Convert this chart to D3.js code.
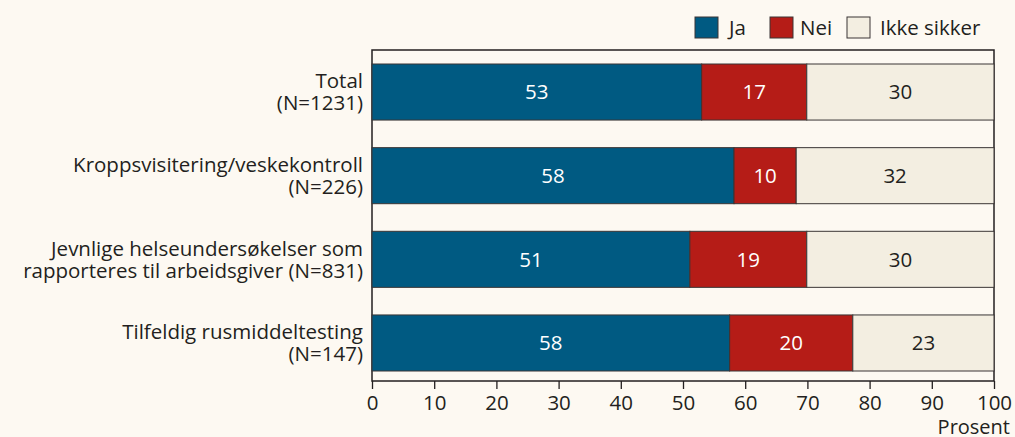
<!DOCTYPE html>
<html>
<head>
<meta charset="utf-8">
<script src="https://cdn.jsdelivr.net/npm/d3@7"></script>
<style>
  body { margin: 0; background: #fdf9f2; }
  svg { display: block; font-family: "Open Sans", "Noto Sans", sans-serif; }
</style>
</head>
<body>
<svg id="plot"></svg>
<script>
svgWidth = 1015;
svgHeight = 437;
margin = {top: 50, right: 21, bottom: 56, left: 372};
fontSize = 20.5;

categories = [
    ["Total", "(N=1231)"],
    ["Kroppsvisitering/veskekontroll", "(N=226)"],
    ["Jevnlige helseundersøkelser som", "rapporteres til arbeidsgiver (N=831)"],
    ["Tilfeldig rusmiddeltesting", "(N=147)"]
];
seriesNames = ["Ja", "Nei", "Ikke sikker"];
jaValues = [53, 58.2, 51.1, 57.5];
neiValues = [16.9, 10, 18.8, 19.8];
ikkeValues = [30.1, 31.8, 30.1, 22.7];
labelJa = [53, 58, 51, 58];
labelNei = [17, 10, 19, 20];
labelIkke = [30, 32, 30, 23];
ticks = [0, 10, 20, 30, 40, 50, 60, 70, 80, 90, 100];
colors = ["#005a82", "#b51c17", "#f3eee1"];
textColors = ["#ffffff", "#ffffff", "#231f20"];

function chartMain() {
    const svg = d3.select("#plot")
        .attr("width", svgWidth)
        .attr("height", svgHeight);

    x = d3.scaleLinear()
        .domain([0, 100])
        .range([margin.left, svgWidth - margin.right]);

    // bars sit inside the frame, with a gap above the first and below the last
    y = d3.scaleBand()
        .domain(categories.map((d, i) => i))
        .range([margin.top + 14, svgHeight - margin.bottom - 10])
        .paddingInner(0.33)
        .paddingOuter(0);

    const rows = categories.map((c, i) => {
        const vals = [jaValues[i], neiValues[i], ikkeValues[i]];
        const labs = [labelJa[i], labelNei[i], labelIkke[i]];
        let acc = 0;
        return vals.map((v, k) => {
            const seg = {row: i, k: k, x0: acc, x1: acc + v, label: labs[k]};
            acc += v;
            return seg;
        });
    }).flat();

    // frame
    svg.append("rect")
        .attr("x", x(0))
        .attr("y", margin.top)
        .attr("width", x(100) - x(0))
        .attr("height", svgHeight - margin.bottom - margin.top)
        .attr("fill", "none")
        .attr("stroke", "#231f20")
        .attr("stroke-width", 1.5);

    const seg = svg.append("g")
        .selectAll("g")
        .data(rows)
        .join("g");

    seg.append("rect")
        .attr("x", d => x(d.x0))
        .attr("y", d => y(d.row))
        .attr("width", d => x(d.x1) - x(d.x0))
        .attr("height", y.bandwidth())
        .attr("fill", d => colors[d.k])
        .attr("stroke", "#3a3535")
        .attr("stroke-width", 1);

    seg.append("text")
        .text(d => d.label)
        .attr("x", d => (x(d.x0) + x(d.x1)) / 2)
        .attr("y", d => y(d.row) + y.bandwidth() / 2)
        .attr("dy", "0.36em")
        .attr("text-anchor", "middle")
        .attr("font-size", fontSize)
        .attr("fill", d => textColors[d.k]);

    // category labels, two lines each
    const cat = svg.append("g")
        .selectAll("text")
        .data(categories)
        .join("text")
        .attr("text-anchor", "end")
        .attr("font-size", fontSize)
        .attr("fill", "#231f20")
        .attr("transform", (d, i) => `translate(${margin.left - 9},${y(i) + y.bandwidth() / 2})`);
    cat.append("tspan").attr("x", 0).attr("y", -11).attr("dy", "0.36em").text(d => d[0]);
    cat.append("tspan").attr("x", 0).attr("y", 11).attr("dy", "0.36em").text(d => d[1]);

    // x axis
    const xAxis = svg.append("g")
        .attr("transform", `translate(0,${svgHeight - margin.bottom})`)
        .call(d3.axisBottom(x).tickValues(ticks).tickSize(8).tickPadding(6));
    xAxis.select(".domain").remove();
    xAxis.selectAll("line").attr("stroke", "#231f20").attr("stroke-width", 1.3);
    xAxis.selectAll("text")
        .attr("font-size", fontSize)
        .attr("font-family", "'Open Sans', 'Noto Sans', sans-serif")
        .attr("fill", "#231f20");

    svg.append("text")
        .text("Prosent")
        .attr("x", svgWidth - 5)
        .attr("y", svgHeight - 3.5)
        .attr("text-anchor", "end")
        .attr("font-size", 20)
        .attr("fill", "#231f20");

    // legend
    const legX = [695, 770, 847];
    const leg = svg.append("g")
        .selectAll("g")
        .data(seriesNames)
        .join("g")
        .attr("transform", (d, i) => `translate(${legX[i]},17)`);
    leg.append("rect")
        .attr("width", 23)
        .attr("height", 21)
        .attr("fill", (d, i) => colors[i])
        .attr("stroke", "#3a3535")
        .attr("stroke-width", 1);
    leg.append("text")
        .text(d => d)
        .attr("x", (d, i) => i === 0 ? 34 : (i === 1 ? 30 : 33))
        .attr("y", 11)
        .attr("dy", "0.36em")
        .attr("font-size", fontSize)
        .attr("fill", "#231f20");
}

chartMain();
</script>
</body>
</html>
